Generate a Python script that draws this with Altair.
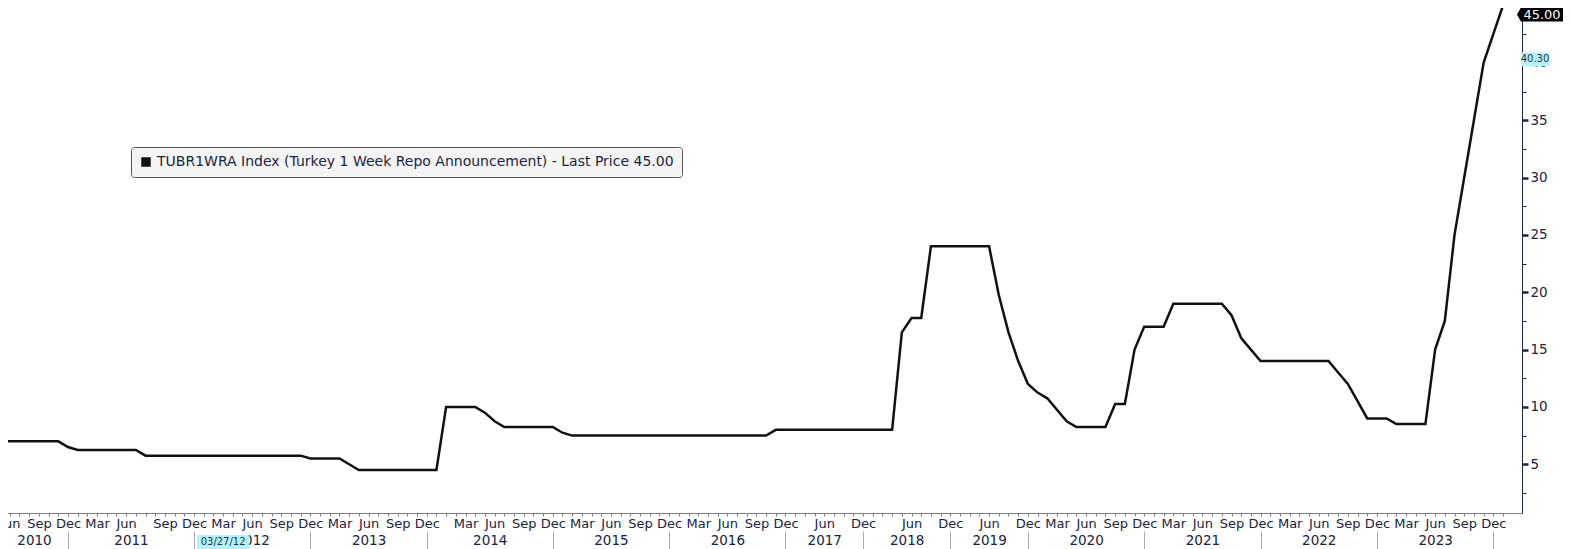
import json
import altair as alt
import pandas as pd

FONT = "DejaVu Sans"
TXT = "#1a2340"
NAVY = "#1e2648"

# ---- data: one entry per rate announcement (x axis is announcement sequence) ----
periods_2010 = ["2010-05", "2010-06", "2010-07", "2010-08", "2010-09", "2010-10", "2010-11", "2010-12"]
rates_2010 = [7.00, 7.00, 7.00, 7.00, 7.00, 7.00, 7.00, 6.50]
periods_2011 = ["2011-01", "2011-02", "2011-03", "2011-04", "2011-05", "2011-06", "2011-07", "2011-08a",
                "2011-08", "2011-09", "2011-10", "2011-11", "2011-12"]
rates_2011 = [6.25, 6.25, 6.25, 6.25, 6.25, 6.25, 6.25, 5.75, 5.75, 5.75, 5.75, 5.75, 5.75]
periods_2012 = ["2012-01", "2012-02", "2012-03", "2012-04", "2012-05", "2012-06", "2012-07", "2012-08",
                "2012-09", "2012-10", "2012-11", "2012-12"]
rates_2012 = [5.75, 5.75, 5.75, 5.75, 5.75, 5.75, 5.75, 5.75, 5.75, 5.75, 5.75, 5.50]
periods_2013 = ["2013-01", "2013-02", "2013-03", "2013-04", "2013-05", "2013-06", "2013-07", "2013-08",
                "2013-09", "2013-10", "2013-11", "2013-12"]
rates_2013 = [5.50, 5.50, 5.50, 5.00, 4.50, 4.50, 4.50, 4.50, 4.50, 4.50, 4.50, 4.50]
periods_2014 = ["2014-01", "2014-01a", "2014-02", "2014-03", "2014-04", "2014-05", "2014-06", "2014-07",
                "2014-08", "2014-09", "2014-10", "2014-11", "2014-12"]
rates_2014 = [4.50, 10.00, 10.00, 10.00, 10.00, 9.50, 8.75, 8.25, 8.25, 8.25, 8.25, 8.25, 8.25]
periods_2015 = ["2015-01", "2015-02", "2015-03", "2015-04", "2015-05", "2015-06", "2015-07", "2015-08",
                "2015-09", "2015-10", "2015-11", "2015-12"]
rates_2015 = [7.75, 7.50, 7.50, 7.50, 7.50, 7.50, 7.50, 7.50, 7.50, 7.50, 7.50, 7.50]
periods_2016 = ["2016-01", "2016-02", "2016-03", "2016-04", "2016-05", "2016-06", "2016-07", "2016-08",
                "2016-09", "2016-10", "2016-11", "2016-12"]
rates_2016 = [7.50, 7.50, 7.50, 7.50, 7.50, 7.50, 7.50, 7.50, 7.50, 7.50, 8.00, 8.00]
periods_2017 = ["2017-01", "2017-03", "2017-04", "2017-06", "2017-07", "2017-09", "2017-10", "2017-12"]
rates_2017 = [8.00, 8.00, 8.00, 8.00, 8.00, 8.00, 8.00, 8.00]
periods_2018 = ["2018-01", "2018-03", "2018-04", "2018-05", "2018-06", "2018-07", "2018-09", "2018-10", "2018-12"]
rates_2018 = [8.00, 8.00, 8.00, 16.50, 17.75, 17.75, 24.00, 24.00, 24.00]
periods_2019 = ["2019-01", "2019-03", "2019-04", "2019-06", "2019-07", "2019-09", "2019-10", "2019-12"]
rates_2019 = [24.00, 24.00, 24.00, 24.00, 19.75, 16.50, 14.00, 12.00]
periods_2020 = ["2020-01", "2020-02", "2020-03", "2020-04", "2020-05", "2020-06", "2020-07", "2020-08",
                "2020-09", "2020-10", "2020-11", "2020-12"]
rates_2020 = [11.25, 10.75, 9.75, 8.75, 8.25, 8.25, 8.25, 8.25, 10.25, 10.25, 15.00, 17.00]
periods_2021 = ["2021-01", "2021-02", "2021-03", "2021-04", "2021-05", "2021-06", "2021-07", "2021-08",
                "2021-09", "2021-10", "2021-11", "2021-12"]
rates_2021 = [17.00, 17.00, 19.00, 19.00, 19.00, 19.00, 19.00, 19.00, 18.00, 16.00, 15.00, 14.00]
periods_2022 = ["2022-01", "2022-02", "2022-03", "2022-04", "2022-05", "2022-06", "2022-07", "2022-08",
                "2022-09", "2022-10", "2022-11", "2022-12"]
rates_2022 = [14.00, 14.00, 14.00, 14.00, 14.00, 14.00, 14.00, 13.00, 12.00, 10.50, 9.00, 9.00]
periods_2023 = ["2023-01", "2023-02", "2023-03", "2023-04", "2023-05", "2023-06", "2023-07", "2023-08",
                "2023-09", "2023-10", "2023-11", "2023-12"]
rates_2023 = [9.00, 8.50, 8.50, 8.50, 8.50, 15.00, 17.50, 25.00, 30.00, 35.00, 40.00, 42.50]
periods_2024 = ["2024-01"]
rates_2024 = [45.00]

labelled_months = ["03", "06", "09", "12"]
sparse_years = ["2017", "2018", "2019"]          # only Jun / Dec labelled there
sparse_months = ["06", "12"]
month_names = {"03": "Mar", "06": "Jun", "09": "Sep", "12": "Dec"}

legend_label = "TUBR1WRA Index (Turkey 1 Week Repo Announcement) - Last Price 45.00"
cursor_value = 40.30
cursor_date = "03/27/12"
cursor_period = "2012-03"

# ---- assemble ----
periods = (periods_2010 + periods_2011 + periods_2012 + periods_2013 + periods_2014 + periods_2015 +
           periods_2016 + periods_2017 + periods_2018 + periods_2019 + periods_2020 + periods_2021 +
           periods_2022 + periods_2023 + periods_2024)
rates = (rates_2010 + rates_2011 + rates_2012 + rates_2013 + rates_2014 + rates_2015 + rates_2016 +
         rates_2017 + rates_2018 + rates_2019 + rates_2020 + rates_2021 + rates_2022 + rates_2023 + rates_2024)
n = len(periods)
df = pd.DataFrame({"idx": list(range(n)), "period": periods, "rate": rates, "series": legend_label})

month_labels = []
for p in periods:
    y, m = p[:4], p[5:7]
    extra = len(p) > 7
    ok = (m in (sparse_months if y in sparse_years else labelled_months)) and not extra
    month_labels.append(month_names[m] if ok else "")

dec_idx = [i for i, p in enumerate(periods) if p[5:] == "12"]
bounds = [-0.01] + dec_idx
year_names = [periods[i][:4] for i in dec_idx]
year_centers = [(bounds[k] + bounds[k + 1]) / 2 for k in range(len(dec_idx))]

xs = alt.Scale(domain=[-0.01, 156.96], nice=False, zero=False)
ys = alt.Scale(domain=[0.75, 45.48], nice=False, zero=False)

month_axis = alt.Axis(
    orient="bottom", values=list(range(n)), title=None, grid=False,
    labelExpr=json.dumps(month_labels) + "[datum.value]",
    domainColor="#7d7d85", tickColor="#7d7d85", tickSize=3, labelPadding=1,
    labelFont=FONT, labelFontSize=13, labelColor=TXT, labelOverlap=False, labelFlush=False,
)
y_axis = alt.Axis(
    orient="right", values=[2.5 * k for k in range(1, 18)], title=None, grid=False, zindex=0,
    labelExpr="datum.value % 5 == 0 ? datum.label : ''",
    domainColor=NAVY, tickColor=NAVY,
    tickSize={"condition": {"test": "datum.value % 5 == 0", "value": 6}, "value": 4},
    tickWidth={"condition": {"test": "datum.value % 5 == 0", "value": 2.5}, "value": 1},
    labelPadding=2, labelFont=FONT, labelFontSize=13.5, labelColor=TXT, labelOverlap=False, labelFlush=False,
)
year_axis = alt.Axis(
    orient="bottom", values=year_centers, title=None, grid=False, domain=False, ticks=False,
    labelExpr=json.dumps(year_names) + "[indexof(" + json.dumps(year_centers) + ", datum.value)]",
    labelPadding=20, labelFont=FONT, labelFontSize=13.5, labelColor=TXT, labelOverlap=False, labelFlush=False,
)
sep_axis = alt.Axis(
    orient="bottom", values=dec_idx, title=None, grid=False, domain=False, labels=False,
    ticks=True, tickSize=18, tickColor="#a9a9b0", tickWidth=1, offset=18,
)

legend = alt.Legend(
    title=None, orient="none", legendX=131, legendY=147, fillColor="#f4f4f4", strokeColor="#55555a",
    cornerRadius=3, padding=8, symbolType="square", symbolSize=90, symbolFillColor="#111111",
    symbolStrokeColor="#111111", symbolStrokeWidth=0, labelFont=FONT, labelFontSize=14, labelColor=TXT,
    labelLimit=1000, labelOffset=4,
)

line = alt.Chart(df).mark_line(strokeWidth=2.5).encode(
    x=alt.X("idx:Q", scale=xs, axis=month_axis),
    y=alt.Y("rate:Q", scale=ys, axis=y_axis),
    stroke=alt.Stroke("series:N", scale=alt.Scale(range=["#111111"]), legend=legend),
)
years_layer = alt.Chart(df).mark_point(opacity=0, size=1).encode(
    x=alt.X("idx:Q", scale=xs, axis=year_axis),
    y=alt.Y("rate:Q", scale=ys, axis=None),
)
sep_layer = alt.Chart(df).mark_point(opacity=0, size=1).encode(
    x=alt.X("idx:Q", scale=xs, axis=sep_axis),
    y=alt.Y("rate:Q", scale=ys, axis=None),
)

# last-price tag (nudged down a little so that it stays inside the page)
last_df = pd.DataFrame({"v": [rates[-1]], "txt": [f"{rates[-1]:.2f}"]})
tag_path = "M -1 0 L -0.83 -0.3 L 1 -0.3 L 1 0.3 L -0.83 0.3 Z"
last_tag = alt.Chart(last_df).mark_point(shape=tag_path, size=2116, filled=True, opacity=1,
                                         color="#000000", strokeWidth=0, yOffset=9).encode(
    x=alt.value(1540), y=alt.Y("v:Q", scale=ys, axis=None))
last_txt = alt.Chart(last_df).mark_text(color="white", font=FONT, fontSize=13, align="center",
                                        baseline="middle", yOffset=9).encode(
    x=alt.value(1542), y=alt.Y("v:Q", scale=ys, axis=None), text="txt:N")

# crosshair tags
cur_path = "M -1 -0.5 L 1 -0.5 L 1 0.5 L -1 0.5 Z"
box_path = "M -1 -0.27 L 1 -0.27 L 1 0.27 L -1 0.27 Z"
cur_df = pd.DataFrame({"v": [cursor_value], "txt": [f"{cursor_value:.2f}"]})
cur_tag = alt.Chart(cur_df).mark_point(shape=cur_path, size=784, filled=True, opacity=1,
                                       color="#b5f1f6", strokeWidth=0).encode(
    x=alt.value(1535), y=alt.Y("v:Q", scale=ys, axis=None))
cur_txt = alt.Chart(cur_df).mark_text(color="#1d3550", font=FONT, fontSize=10, align="center",
                                      baseline="middle").encode(
    x=alt.value(1535), y=alt.Y("v:Q", scale=ys, axis=None), text="txt:N")

date_df = pd.DataFrame({"idx": [periods.index(cursor_period)], "txt": [cursor_date]})
date_tag = alt.Chart(date_df).mark_point(shape=box_path, size=2704, filled=True, opacity=1,
                                         color="#b5f1f6", strokeWidth=0).encode(
    x=alt.X("idx:Q", scale=xs, axis=None), y=alt.value(542))
date_txt = alt.Chart(date_df).mark_text(color="#1d3550", font=FONT, fontSize=10, align="center",
                                        baseline="middle").encode(
    x=alt.X("idx:Q", scale=xs, axis=None), y=alt.value(542), text="txt:N")

chart = alt.layer(
    line, years_layer, sep_layer, last_tag, last_txt, cur_tag, cur_txt, date_tag, date_txt
).resolve_axis(x="independent", y="independent").resolve_scale(x="shared", y="shared").properties(
    width=1522, height=513,
    padding={"left": -8, "top": -8, "right": 41, "bottom": 36},
    autosize=alt.AutoSizeParams(type="none"),
).configure_view(strokeOpacity=0).configure(background="white")

chart.save("out.html", embed_options={"renderer": "svg", "actions": False})
